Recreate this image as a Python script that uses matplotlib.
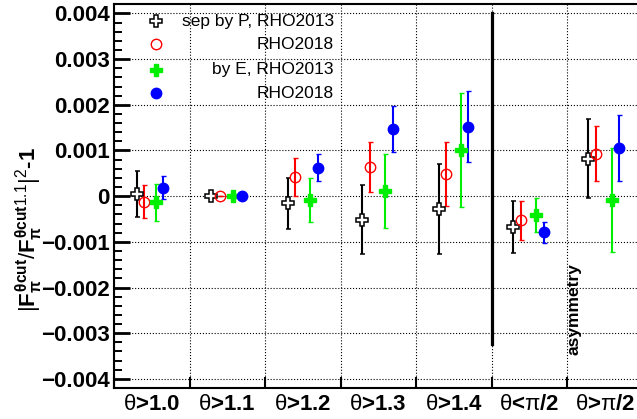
import numpy as np
import matplotlib
matplotlib.use("Agg")
import matplotlib.pyplot as plt
from matplotlib.ticker import MultipleLocator

plt.rcParams['font.family'] = ['Liberation Sans', 'DejaVu Sans']
plt.rcParams['mathtext.fontset'] = 'custom'
plt.rcParams['mathtext.rm'] = 'Liberation Sans'
plt.rcParams['mathtext.it'] = 'Liberation Sans:bold'
plt.rcParams['mathtext.bf'] = 'Liberation Sans:bold'
plt.rcParams['mathtext.sf'] = 'Liberation Sans'

# theta cut bins
bin_labels = [r'$\mathrm{\theta}$>1.0', r'$\mathrm{\theta}$>1.1', r'$\mathrm{\theta}$>1.2',
              r'$\mathrm{\theta}$>1.3', r'$\mathrm{\theta}$>1.4',
              r'$\mathrm{\theta}$<$\mathrm{\pi}$/2', r'$\mathrm{\theta}$>$\mathrm{\pi}$/2']

# sep by P, RHO2013
p13_x = [0.30, 1.28, 2.30, 3.29, 4.30, 5.29, 6.28]
p13_y = [0.00005, 0.0, -0.000158, -0.000515, -0.00028, -0.00068, 0.00082]
p13_e = [0.00051, 0.0, 0.00056, 0.00075, 0.00098, 0.00057, 0.00087]

# sep by P, RHO2018
p18_x = [0.40, 1.40, 2.40, 3.39, 4.40, 5.39, 6.39]
p18_y = [-0.00012, 0.0, 0.00042, 0.00064, 0.00048, -0.00053, 0.00093]
p18_e = [0.00036, 0.0, 0.00042, 0.00055, 0.00070, 0.00043, 0.00060]

# by E, RHO2013
e13_x = [0.55, 1.58, 2.60, 3.59, 4.59, 5.59, 6.59]
e13_y = [-0.000135, 0.0, -0.00009, 0.000114, 0.00101, -0.00041, -0.00008]
e13_e = [0.00040, 0.0, 0.00048, 0.00081, 0.00124, 0.00038, 0.00114]

# by E, RHO2018
e18_x = [0.65, 1.70, 2.70, 3.70, 4.69, 5.69, 6.69]
e18_y = [0.000186, 0.0, 0.000625, 0.00147, 0.00152, -0.00079, 0.00106]
e18_e = [0.00025, 0.0, 0.00030, 0.00051, 0.00078, 0.00023, 0.00072]

legend_labels = ['sep by P, RHO2013', 'RHO2018', 'by E, RHO2013', 'RHO2018']

ytick_vals = [-0.004, -0.003, -0.002, -0.001, 0.0, 0.001, 0.002, 0.003, 0.004]
ytick_labels = ['\u22120.004', '\u22120.003', '\u22120.002', '\u22120.001', '0',
                '0.001', '0.002', '0.003', '0.004']

fig = plt.figure(figsize=(6.37, 4.19), dpi=100)
ax = fig.add_axes([114 / 637, 31 / 419, 528.5 / 637, 383.7 / 419])
ax.set_xlim(0, 7)
ax.set_ylim(-0.0042, 0.0042)

styles = [
    dict(marker='P', mfc='white', mec='black', color='black', ms=9, mew=1.1),
    dict(marker='o', mfc='none', mec='red', color='red', ms=7.5, mew=1.0),
    dict(marker='P', mfc='#00ee00', mec='#00ee00', color='#00ee00', ms=8.5, mew=1.0),
    dict(marker='o', mfc='blue', mec='blue', color='blue', ms=7.5, mew=1.0),
]
series = [(p13_x, p13_y, p13_e), (p18_x, p18_y, p18_e),
          (e13_x, e13_y, e13_e), (e18_x, e18_y, e18_e)]

for (xs, ys, es), st in zip(series, styles):
    ax.errorbar(xs, ys, yerr=es, ls='none', elinewidth=1.5, capsize=1.8,
                capthick=1.5, zorder=3, **st)

# legend drawn by hand, markers left and text right-aligned
leg_y = [0.00383, 0.00332, 0.00277, 0.00225]
for yy, lab, st in zip(leg_y, legend_labels, styles):
    ax.plot([0.556], [yy], ls='none', zorder=4, **st)
    ax.text(2.91, yy, lab, ha='right', va='center', fontsize=12.5)

# separator between cut scan and asymmetry bins
ax.plot([5.0, 5.0], [0.004, -0.00323], color='black', lw=2.3, zorder=3)
ax.text(6.0, -0.00348, 'asymmetry', rotation=90, ha='left', va='bottom',
        fontsize=12.5, fontweight='bold')

# axes styling
ax.set_xticks(np.arange(0, 8))
ax.set_xticklabels([])
ax.set_xticks(np.arange(7) + 0.5, minor=True)
ax.set_xticklabels(bin_labels, minor=True, fontsize=16, fontweight='bold')
ax.tick_params(axis='x', which='major', direction='in', length=8, width=1.5)
ax.tick_params(axis='x', which='minor', length=0, pad=4)

ax.set_yticks(ytick_vals)
ax.set_yticklabels(ytick_labels, fontsize=16, fontweight='bold')
ax.yaxis.set_minor_locator(MultipleLocator(0.0002))
ax.tick_params(axis='y', which='major', direction='in', length=11.5, width=2.0, pad=3)
ax.tick_params(axis='y', which='minor', direction='in', length=6, width=1.4)
ax.tick_params(right=False, top=False)

ax.grid(True, which='major', ls=':', color='black', lw=0.8)
for sp in ax.spines.values():
    sp.set_linewidth(1.5)

fig.text(0.0455, 0.451, r'$|F_{\pi}^{\theta cut}/F_{\pi}^{\theta cut1.1}|^{2}$-1',
         rotation=90, ha='center', va='center', fontsize=16, fontweight='bold')

fig.savefig('out.png', dpi=100)
